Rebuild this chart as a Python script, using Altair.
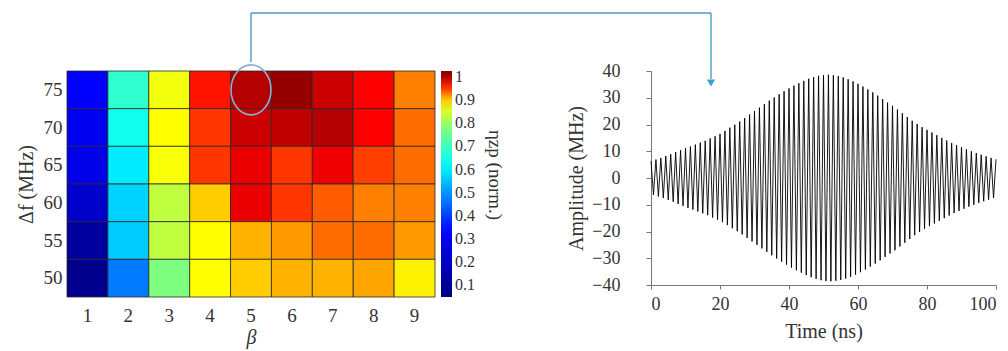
import altair as alt
import pandas as pd

FONT = "Liberation Serif"
TXT = "#333333"

# ---------------- heat map data ----------------
beta = [1, 2, 3, 4, 5, 6, 7, 8, 9]
delta_f = [75, 70, 65, 60, 55, 50]
eta = [
    [0.33, 0.68, 0.87, 0.96, 1.00, 1.015, 0.99, 0.965, 0.93],   # 75 MHz
    [0.30, 0.64, 0.88, 0.95, 0.99, 0.995, 1.00, 0.965, 0.935],  # 70 MHz
    [0.28, 0.60, 0.875, 0.95, 0.975, 0.95, 0.972, 0.948, 0.935],# 65 MHz
    [0.22, 0.57, 0.83, 0.90, 0.975, 0.95, 0.94, 0.93, 0.93],    # 60 MHz
    [0.12, 0.56, 0.83, 0.88, 0.91, 0.92, 0.935, 0.935, 0.92],   # 55 MHz
    [0.08, 0.47, 0.78, 0.88, 0.90, 0.91, 0.91, 0.915, 0.885],   # 50 MHz
]
colorbar_ticks = [0.1, 0.2, 0.3, 0.4, 0.5, 0.6, 0.7, 0.8, 0.9, 1.0]
cmap_stops = [0.05, 0.33, 0.62, 0.78, 0.88, 0.93, 0.965, 1.025]
cmap_colors = ["#00007f", "#0000ff", "#00ffff", "#7fff7f",
               "#ffff00", "#ff7f00", "#ff0000", "#7f0000"]

# ---------------- waveform data (peak amplitude of each cycle, MHz) ----------------
envelope = [6.3, 6.9, 7.5, 8.2, 8.9, 9.7, 10.4, 11.2, 11.8, 12.5,
            13.2, 13.9, 14.8, 15.6, 16.5, 17.6, 18.8, 19.9, 21.1, 22.4,
            23.7, 25.0, 26.3, 27.6, 28.9, 30.1, 31.3, 32.4, 33.5, 34.5,
            35.4, 36.3, 37.1, 37.7, 38.2, 38.5, 38.6, 38.4, 38.1, 37.6,
            36.9, 36.1, 35.2, 34.2, 33.1, 32.0, 30.8, 29.5, 28.2, 27.0,
            25.6, 24.2, 22.8, 21.4, 20.2, 19.0, 18.0, 17.0, 16.0, 15.0,
            14.0, 13.1, 12.3, 11.5, 10.7, 10.0, 9.3, 8.7, 8.1, 7.5, 7.0]
time_span = 100.0
time_ticks = [0, 20, 40, 60, 80, 100]
amp_ticks = [-40, -30, -20, -10, 0, 10, 20, 30, 40]

# ---------------- tables ----------------
heat_rows = []
for i, f in enumerate(delta_f):
    for j, b in enumerate(beta):
        heat_rows.append({"beta": b, "df": f, "eta": eta[i][j]})
heat_df = pd.DataFrame(heat_rows)

period = time_span / (len(envelope) - 1)
wave_rows = []
n = 0
for k, a in enumerate(envelope):
    t = k * period
    wave_rows.append({"i": n, "t": t, "a": a}); n += 1
    if k < len(envelope) - 1:
        wave_rows.append({"i": n, "t": t + period / 2, "a": -a}); n += 1
wave_df = pd.DataFrame(wave_rows)

# ---------------- left: heat map ----------------
W1, H1 = 368, 226
W2, H2 = 345, 214
LINE = "#4a9cc4"

xenc = alt.X("beta:O", scale=alt.Scale(paddingInner=0, paddingOuter=0),
             axis=alt.Axis(title="β", titleFontStyle="italic", labelAngle=0,
                           ticks=False, domain=False, labelPadding=9,
                           titlePadding=2, labelFontSize=19, titleFontSize=20))
yenc = alt.Y("df:O", sort="descending",
             scale=alt.Scale(paddingInner=0, paddingOuter=0),
             axis=alt.Axis(title="Δf (MHz)", ticks=False, domain=False,
                           labelPadding=5, titlePadding=7,
                           labelFontSize=19, titleFontSize=20))

heat = alt.Chart(heat_df).mark_rect(stroke="#2a2a2a", strokeWidth=0.8).encode(
    x=xenc, y=yenc,
    color=alt.Color(
        "eta:Q",
        scale=alt.Scale(domain=cmap_stops, range=cmap_colors, interpolate="rgb"),
        legend=alt.Legend(
            title=None, orient="none", legendX=W1 + 6, legendY=0,
            direction="vertical",
            gradientLength=H1, gradientThickness=11, gradientStrokeWidth=0,
            values=colorbar_ticks, labelOverlap=False,
            labelExpr="datum.value >= 1 ? '1' : format(datum.value, '.1f')",
            labelFont=FONT, labelFontSize=16, labelColor=TXT, labelOffset=3,
            padding=0,
        ),
    ),
)

mark_df = pd.DataFrame({"beta": [5], "df": [75]})
ellipse = alt.Chart(mark_df).mark_point(
    shape="M -0.8,0 A 0.8,1 0 1,0 0.8,0 A 0.8,1 0 1,0 -0.8,0 Z",
    filled=False, stroke="#8ab0cc", strokeWidth=1.6, size=2500, opacity=1,
).encode(x=xenc, y=yenc)

up_rule = alt.Chart(mark_df).mark_rule(color=LINE, strokeWidth=1.4).encode(
    x=xenc, y=alt.value(-9), y2=alt.value(-58))
across_rule = alt.Chart(mark_df).mark_rule(color=LINE, strokeWidth=1.4).encode(
    x=xenc, x2=alt.value(644), y=alt.value(-58))
down_rule = alt.Chart(mark_df).mark_rule(color=LINE, strokeWidth=1.4).encode(
    x=alt.value(644), y=alt.value(-58), y2=alt.value(8))
arrow_head = alt.Chart(mark_df).mark_point(
    shape="triangle-down", filled=True, color="#3aa0d8", size=70, opacity=1
).encode(x=alt.value(644), y=alt.value(12))

cb_title = alt.Chart(mark_df).mark_text(
    angle=90, font=FONT, fontSize=19, color=TXT, align="center", baseline="middle"
).encode(x=alt.value(428), y=alt.value(104), text=alt.value("ηzp (norm.)"))

left = alt.layer(heat, ellipse, up_rule, across_rule, down_rule, arrow_head,
                 cb_title).properties(width=W1, height=H1)

# ---------------- right: waveform ----------------
right = alt.Chart(wave_df).mark_line(color="black", strokeWidth=0.9).encode(
    x=alt.X("t:Q", scale=alt.Scale(domain=[0, 100], nice=False),
            axis=alt.Axis(title="Time (ns)", values=time_ticks, grid=False,
                          tickSize=4, labelPadding=6, titlePadding=8,
                          domainColor="#777", tickColor="#777",
                          labelFontSize=18, titleFontSize=20)),
    y=alt.Y("a:Q", scale=alt.Scale(domain=[-40, 40], nice=False),
            axis=alt.Axis(title="Amplitude (MHz)", values=amp_ticks, grid=False,
                          tickSize=5, labelPadding=26, titlePadding=5,
                          domainColor="#777", tickColor="#777",
                          labelFontSize=18, titleFontSize=20)),
    order="i:Q",
).properties(width=W2, height=H2)

chart = alt.hconcat(left, right, spacing=216, bounds="flush").configure_view(
    stroke=None
).configure_axis(
    labelFont=FONT, titleFont=FONT, labelColor=TXT, titleColor=TXT,
    titleFontWeight="normal",
).properties(
    padding={"left": 16, "top": 12, "right": 5, "bottom": 5},
    background="white",
)

chart.save("out.html", embed_options={"renderer": "svg", "actions": False})
